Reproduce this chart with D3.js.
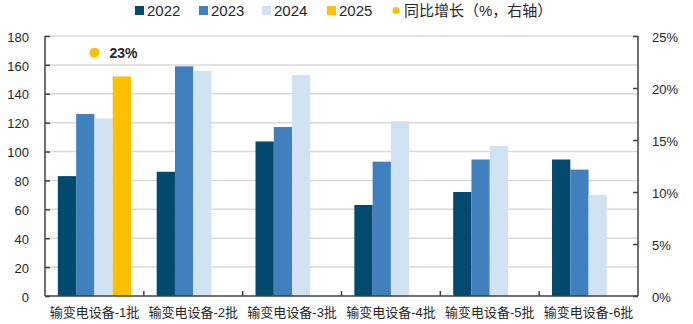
<!DOCTYPE html>
<html><head><meta charset="utf-8">
<script src="https://cdn.jsdelivr.net/npm/d3@7"></script>
<style>
html,body{margin:0;padding:0;background:#fff;}
svg{display:block;}
text{font-family:"Liberation Sans","Noto Sans CJK SC",Arial,sans-serif;}
</style></head>
<body>
<script>
const categories = ["输变电设备-1批","输变电设备-2批","输变电设备-3批","输变电设备-4批","输变电设备-5批","输变电设备-6批"];
const seriesNames = ["2022","2023","2024","2025"];
const v2022 = [83, 86, 107, 63, 72, 94.5];
const v2023 = [126, 159, 117, 93, 94.5, 87.5];
const v2024 = [123, 156, 153, 121, 104, 70];
const v2025 = [152, null, null, null, null, null];
const growth = [23.4, null, null, null, null, null];
const leftTicks = [0,20,40,60,80,100,120,140,160,180];
const rightTicks = [0,5,10,15,20,25];
const growthLabel = "同比增长（%，右轴）";

const colors = {"2022":"#034A6F","2023":"#4180BF","2024":"#D1E3F3","2025":"#FFC000"};
const seriesValues = {"2022":v2022,"2023":v2023,"2024":v2024,"2025":v2025};

const W=693,H=324;
const m={l:45,r:55,t:36,b:28};
const svg=d3.select("body").append("svg").attr("width",W).attr("height",H);

const x0=d3.scaleBand().domain(categories).range([m.l,W-m.r]).paddingInner(0.26).paddingOuter(0.13);
const x1=d3.scaleBand().domain(seriesNames).range([0,x0.bandwidth()]);
const y=d3.scaleLinear().domain([0,180]).range([H-m.b,m.t]);
const y2=d3.scaleLinear().domain([0,25]).range([H-m.b,m.t]);

// gridlines
svg.append("g").selectAll("line").data(leftTicks.filter(d=>d>0)).join("line")
 .attr("x1",m.l).attr("x2",W-m.r).attr("y1",d=>y(d)).attr("y2",d=>y(d))
 .attr("stroke","#d9d9d9").attr("stroke-width",1.5);

// bars
const g=svg.append("g");
categories.forEach((c,i)=>{
  seriesNames.forEach(s=>{
    const v=seriesValues[s][i];
    if(v==null) return;
    g.append("rect").attr("x",x0(c)+x1(s)).attr("width",x1.bandwidth())
     .attr("y",y(v)).attr("height",y(0)-y(v)).attr("fill",colors[s]);
  });
});

// axes
const axisColor="#404040";
const la=svg.append("g").attr("transform",`translate(${m.l},0)`)
 .call(d3.axisLeft(y).tickValues(leftTicks).tickSize(-5).tickPadding(16));
const ra=svg.append("g").attr("transform",`translate(${W-m.r},0)`)
 .call(d3.axisRight(y2).tickValues(rightTicks).tickSize(-5).tickPadding(14).tickFormat(d=>d+"%"));
const ba=svg.append("g").attr("transform",`translate(0,${y(0)})`)
 .call(d3.axisBottom(x0).tickSize(0).tickPadding(12));
[la,ra,ba].forEach(a=>{
  a.select(".domain").attr("stroke",axisColor).attr("stroke-width",1.5);
  a.selectAll(".tick line").attr("stroke",axisColor).attr("stroke-width",1.5);
});
la.select(".domain").attr("d",`M0,${y(0)}V${y(180)}`);
ra.select(".domain").attr("d",`M0,${y2(0)}V${y2(25)}`);
ba.select(".domain").attr("d",`M${m.l},0H${W-m.r}`);
la.selectAll(".tick text").attr("font-size",13).attr("fill","#262626").attr("dy","0.4em");
ra.selectAll(".tick text").attr("font-size",13).attr("fill","#262626").attr("dy","0.45em");
ba.selectAll(".tick text").attr("font-size",13).attr("fill","#262626").attr("dy","0.72em");
// category boundary ticks
const step=x0.step();
svg.append("g").selectAll("line").data(d3.range(1,categories.length)).join("line")
 .attr("x1",d=>x0(categories[d])-x0.paddingInner()*step/2).attr("x2",d=>x0(categories[d])-x0.paddingInner()*step/2)
 .attr("y1",y(0)).attr("y2",y(0)-5).attr("stroke",axisColor).attr("stroke-width",1.5);

// growth points
growth.forEach((gv,i)=>{
  if(gv==null) return;
  const cx=x0(categories[i])+x0.bandwidth()/2;
  svg.append("circle").attr("cx",cx).attr("cy",y2(gv)).attr("r",5).attr("fill","#FFC000");
  svg.append("text").attr("x",cx+15).attr("y",y2(gv)).attr("dy","0.36em")
   .attr("font-size",14).attr("font-weight","bold").attr("fill","#262626").text(Math.round(gv)+"%");
});

// legend
const lg=svg.append("g");
const lx=[135,199,262,327];
seriesNames.forEach((s,i)=>{
  lg.append("rect").attr("x",lx[i]).attr("y",6).attr("width",9).attr("height",9).attr("fill",colors[s]);
  lg.append("text").attr("x",lx[i]+12).attr("y",11).attr("dy","0.36em").attr("font-size",15).attr("fill","#262626").text(s);
});
lg.append("circle").attr("cx",396).attr("cy",10.5).attr("r",3.5).attr("fill","#FFC000");
lg.append("text").attr("x",404).attr("y",11).attr("dy","0.36em").attr("font-size",15).attr("fill","#262626").text(growthLabel);
</script>
</body></html>
